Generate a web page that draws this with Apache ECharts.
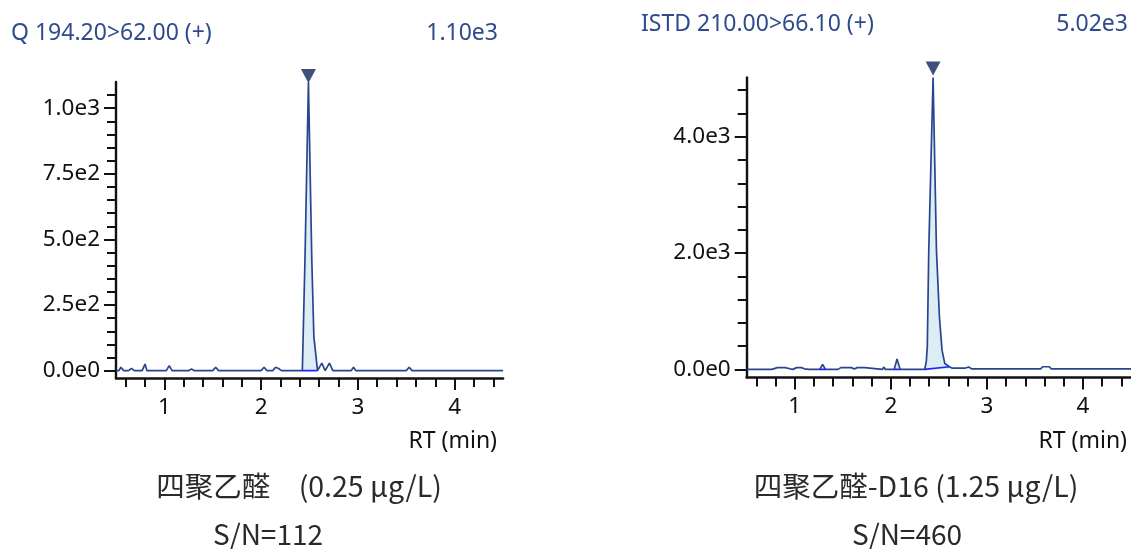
<!DOCTYPE html>
<html>
<head>
<meta charset="utf-8">
<script src="https://cdn.jsdelivr.net/npm/echarts@6/dist/echarts.min.js"></script>
<style>
html,body{margin:0;padding:0;background:#fff;}
#chart{width:1131px;height:549px;}
</style>
</head>
<body>
<div id="chart"></div>
<script>
// ---- data ----
const leftTitle = 'Q 194.20>62.00 (+)';
const leftMaxLabel = '1.10e3';
const rightTitle = 'ISTD 210.00>66.10 (+)';
const rightMaxLabel = '5.02e3';
const leftCaption = '四聚乙醛\u3000(0.25 μg/L)';
const leftSN = 'S/N=112';
const rightCaption = '四聚乙醛-D16 (1.25 μg/L)';
const rightSN = 'S/N=460';
const xAxisName = 'RT (min)';

const xLabelTicks = [1, 2, 3, 4];
const xMinorTicks = [0.6,0.8,1.0,1.2,1.4,1.6,1.8,2.0,2.2,2.4,2.6,2.8,3.0,3.2,3.4,3.6,3.8,4.0,4.2,4.4];

const leftYLabels = [0, 250, 500, 750, 1000];
const leftYMinor = [0,50,100,150,200,250,300,350,400,450,500,550,600,650,700,750,800,850,900,950,1000,1050];
const rightYLabels = [0, 2000, 4000];
const rightYMinor = [0,400,800,1200,1600,2000,2400,2800,3200,3600,4000,4400,4800];

const leftRT  = [0.50,0.53,0.55,0.58,0.63,0.66,0.69,0.77,0.80,0.82,1.02,1.05,1.08,1.25,1.28,1.31,1.50,1.53,1.56,2.00,2.03,2.06,2.12,2.15,2.18,2.21,2.426,2.453,2.489,2.524,2.545,2.583,2.627,2.662,2.706,2.741,2.93,2.955,2.98,3.12,3.14,3.16,3.50,3.53,3.56,4.50];
const leftInt = [0,0,13,0,0,9,0,0,25,0,0,19,0,0,6,0,0,13,0,0,13,0,0,13,8,0,0,420,1100,420,130,0,29,0,29,0,0,13,0,0,6,0,0,13,0,0];
const leftPeaks = [[2.426, 2.583]];
const leftBaseRT = [[2.426, 2.583]];
const leftBaseInt = [[0, 0]];
const leftApex = [2.489, 1100];

const rightRT  = [0.50,0.66,0.67,0.68,0.76,0.78,0.82,0.84,0.86,0.90,0.92,0.95,0.98,1.02,1.04,1.07,1.10,1.12,1.15,1.26,1.29,1.32,1.45,1.48,1.53,1.55,1.59,1.62,1.65,1.67,1.69,1.73,1.75,1.91,1.93,1.94,2.035,2.065,2.097,2.354,2.37,2.38,2.395,2.44,2.475,2.506,2.533,2.562,2.61,2.64,2.72,2.74,2.77,2.79,2.81,2.84,3.12,3.137,3.15,3.56,3.58,3.65,3.67,4.50];
const rightInt = [0,0,20,0,0,30,30,10,30,30,5,10,0,30,5,30,10,30,0,0,86,0,0,30,30,0,30,5,30,0,30,30,0,0,40,0,0,177,0,0,150,400,2050,5020,2050,900,330,100,45,20,20,35,20,20,40,10,10,40,10,10,45,45,10,10];
const rightPeaks = [[1.26, 1.32], [2.035, 2.097], [2.354, 2.61]];
const rightBaseRT = [[1.26, 1.32], [2.035, 2.097], [2.354, 2.61]];
const rightBaseInt = [[0, 0], [0, 0], [0, 45]];
const rightApex = [2.44, 5020];

// ---- style ----
const C_LINE = '#2a4590';
const C_FILL = '#dcedf5';
const C_BASE = '#2323ff';
const C_MARK = '#0e2358';
const C_TITLE = '#2f4b8e';
const C_AXIS = '#111111';
const FONT = '"Noto Sans", "Open Sans", sans-serif';
const CJK = '"Noto Sans CJK SC", "Noto Sans", sans-serif';

function fmtE(v) {
  if (v === 0) return '0.0e0';
  const e = Math.floor(Math.log10(Math.abs(v)) + 1e-9);
  return (v / Math.pow(10, e)).toFixed(1) + 'e' + e;
}

const grids = [
  { left: 116, top: 82, width: 387, height: 296 },
  { left: 746.7, top: 77.4, width: 386.7, height: 300 }
];
const yRanges = [[-28, 1100], [-138, 5020]];
const yLabelSets = [leftYLabels, rightYLabels];
const yMinorSets = [leftYMinor, rightYMinor];

const xAxes = [], yAxes = [];
grids.forEach((g, i) => {
  xAxes.push({
    type: 'value', gridIndex: i, position: 'bottom', min: 0.5, max: 4.5,
    axisLine: { show: true, onZero: false, lineStyle: { color: C_AXIS, width: 2.6 } },
    axisTick: { show: true, customValues: xMinorTicks, length: 9, lineStyle: { color: C_AXIS, width: 2 } },
    axisLabel: { show: true, customValues: xLabelTicks, margin: 18, fontSize: 22.5, fontFamily: FONT, color: C_AXIS },
    splitLine: { show: false }
  });
  xAxes.push({
    type: 'value', gridIndex: i, position: 'bottom', min: 0.5, max: 4.5,
    axisLine: { show: false, onZero: false },
    axisTick: { show: true, customValues: xLabelTicks, length: 12, lineStyle: { color: C_AXIS, width: 2 } },
    axisLabel: { show: false },
    splitLine: { show: false }
  });
  yAxes.push({
    type: 'value', gridIndex: i, position: 'left', min: yRanges[i][0], max: yRanges[i][1],
    axisLine: { show: true, onZero: false, lineStyle: { color: C_AXIS, width: 2.4 } },
    axisTick: { show: true, customValues: yMinorSets[i], length: 9, lineStyle: { color: C_AXIS, width: 2 } },
    axisLabel: { show: true, customValues: yLabelSets[i], margin: 16, fontSize: 22.5, fontFamily: FONT, color: C_AXIS, formatter: fmtE },
    splitLine: { show: false }
  });
  yAxes.push({
    type: 'value', gridIndex: i, position: 'left', min: yRanges[i][0], max: yRanges[i][1],
    axisLine: { show: false, onZero: false },
    axisTick: { show: true, customValues: yLabelSets[i], length: 12, lineStyle: { color: C_AXIS, width: 2 } },
    axisLabel: { show: false },
    splitLine: { show: false }
  });
});

const series = [];
function addChart(i, rt, inten, peaks, baseRT, baseInt, apex, markOffset) {
  const pts = rt.map((x, k) => [x, inten[k]]);
  const xi = i * 2, yi = i * 2;
  peaks.forEach(p => {
    series.push({
      type: 'line', xAxisIndex: xi, yAxisIndex: yi, silent: true, animation: false,
      showSymbol: false, data: pts.filter(d => d[0] >= p[0] - 1e-9 && d[0] <= p[1] + 1e-9),
      lineStyle: { width: 0, opacity: 0 }, areaStyle: { color: C_FILL, opacity: 1 }, z: 1
    });
  });
  series.push({
    type: 'line', xAxisIndex: xi, yAxisIndex: yi, silent: true, animation: false,
    showSymbol: false, data: pts, lineStyle: { color: C_LINE, width: 1.7 }, z: 2
  });
  baseRT.forEach((b, k) => {
    series.push({
      type: 'line', xAxisIndex: xi, yAxisIndex: yi, silent: true, animation: false,
      showSymbol: false, data: [[b[0], baseInt[k][0]], [b[1], baseInt[k][1]]],
      lineStyle: { color: C_BASE, width: 1.6 }, z: 3
    });
  });
  series.push({
    type: 'scatter', xAxisIndex: xi, yAxisIndex: yi, silent: true, animation: false, clip: false,
    symbol: 'triangle', symbolRotate: 180, symbolSize: [15, 14], symbolOffset: [0, markOffset],
    itemStyle: { color: C_MARK }, data: [apex], z: 4
  });
}
addChart(0, leftRT, leftInt, leftPeaks, leftBaseRT, leftBaseInt, leftApex, -6);
addChart(1, rightRT, rightInt, rightPeaks, rightBaseRT, rightBaseInt, rightApex, -9);

function txt(x, y, text, font, fill, align) {
  return { type: 'text', silent: true, style: { x: x, y: y, text: text, font: font, fill: fill, align: align || 'left', verticalAlign: 'middle' } };
}

const option = {
  backgroundColor: '#ffffff',
  animation: false,
  grid: grids,
  xAxis: xAxes,
  yAxis: yAxes,
  series: series,
  graphic: [
    txt(11, 33, leftTitle, '23px ' + FONT, C_TITLE, 'left'),
    txt(498, 33, leftMaxLabel, '23px ' + FONT, C_TITLE, 'right'),
    txt(641, 24, rightTitle, '23px ' + FONT, C_TITLE, 'left'),
    txt(1128, 24, rightMaxLabel, '23px ' + FONT, C_TITLE, 'right'),
    txt(497, 441, xAxisName, '23px ' + FONT, C_AXIS, 'right'),
    txt(1127, 441, xAxisName, '23px ' + FONT, C_AXIS, 'right'),
    txt(299, 486, leftCaption, '28.5px ' + CJK, '#2a2a2a', 'center'),
    txt(268, 534, leftSN, '28px ' + CJK, '#2a2a2a', 'center'),
    txt(916, 486, rightCaption, '28.5px ' + CJK, '#2a2a2a', 'center'),
    txt(907, 534, rightSN, '28px ' + CJK, '#2a2a2a', 'center')
  ]
};

const chart = echarts.init(document.getElementById('chart'), null, { renderer: 'canvas' });
chart.setOption(option);
</script>
</body>
</html>
